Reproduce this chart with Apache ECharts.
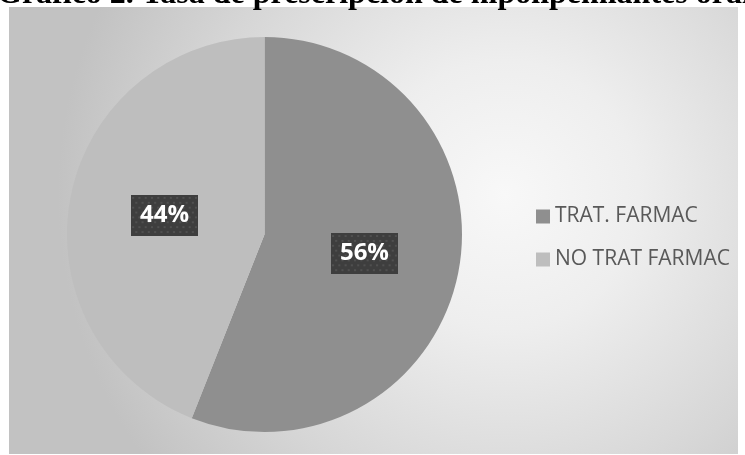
<!DOCTYPE html>
<html>
<head>
<meta charset="utf-8">
<script src="https://cdn.jsdelivr.net/npm/echarts@6/dist/echarts.min.js"></script>
<style>
html,body{margin:0;padding:0;background:#fff;}
#chart{width:745px;height:455px;}
</style>
</head>
<body>
<div id="chart"></div>
<script>
const titleText = 'Gráfico 2. Tasa de prescripción de hipolipemiantes orales';
const categories = ['TRAT. FARMAC', 'NO TRAT FARMAC'];
const values = [56, 44];
const sliceColors = ['#8f8f8f', '#bebebe'];

// dotted dark label background
const pat = document.createElement('canvas');
pat.width = 64; pat.height = 42;
(function(){
  const c = pat.getContext('2d');
  c.fillStyle = '#3e3e3e';
  c.fillRect(0, 0, 64, 42);
  c.fillStyle = '#505050';
  for (let y = 2, row = 0; y < 42; y += 5, row++) {
    for (let x = (row % 2 ? 4 : 1); x < 64; x += 6) {
      c.fillRect(x, y, 2, 2);
    }
  }
})();

const chart = echarts.init(document.getElementById('chart'));
chart.setOption({
  animation: false,
  title: {
    text: titleText,
    left: -3,
    top: -21,
    padding: 0,
    textStyle: {
      fontFamily: 'Liberation Serif',
      fontWeight: 'bold',
      fontSize: 32,
      color: '#000'
    }
  },
  graphic: [{
    type: 'rect',
    z: -10,
    silent: true,
    shape: {x: 9, y: 7, width: 729, height: 447},
    style: {
      fill: {
        type: 'radial', x: 0.68, y: 0.42, r: 1.0,
        colorStops: [
          {offset: 0, color: '#f8f8f8'},
          {offset: 0.3, color: '#eeeeee'},
          {offset: 0.7, color: '#d6d6d6'},
          {offset: 1, color: '#c2c2c2'}
        ]
      }
    }
  }],
  legend: {
    orient: 'vertical',
    left: 531,
    top: 201,
    itemWidth: 14,
    itemHeight: 14,
    itemGap: 22,
    icon: 'rect',
    textStyle: {
      fontFamily: 'Open Sans',
      fontSize: 21,
      color: '#595959',
      padding: [0, 0, 0, 0]
    },
    data: categories
  },
  series: [{
    type: 'pie',
    center: [264.5, 234.5],
    radius: 197.5,
    startAngle: 90,
    clockwise: true,
    silent: true,
    emphasis: {disabled: true},
    itemStyle: {borderWidth: 0},
    label: {
      show: true,
      position: 'inside',
      formatter: '{d}%',
      fontFamily: 'Open Sans',
      fontWeight: 'bold',
      fontSize: 24,
      lineHeight: 24,
      color: '#ffffff',
      backgroundColor: {image: pat},
      padding: [9, 9, 8, 9],
      shadowColor: 'rgba(0,0,0,0.5)',
      shadowBlur: 7,
      shadowOffsetX: 4,
      shadowOffsetY: 4
    },
    labelLine: {show: false},
    data: categories.map((name, i) => ({
      name: name,
      value: values[i],
      itemStyle: {color: sliceColors[i]}
    }))
  }]
});
</script>
</body>
</html>
